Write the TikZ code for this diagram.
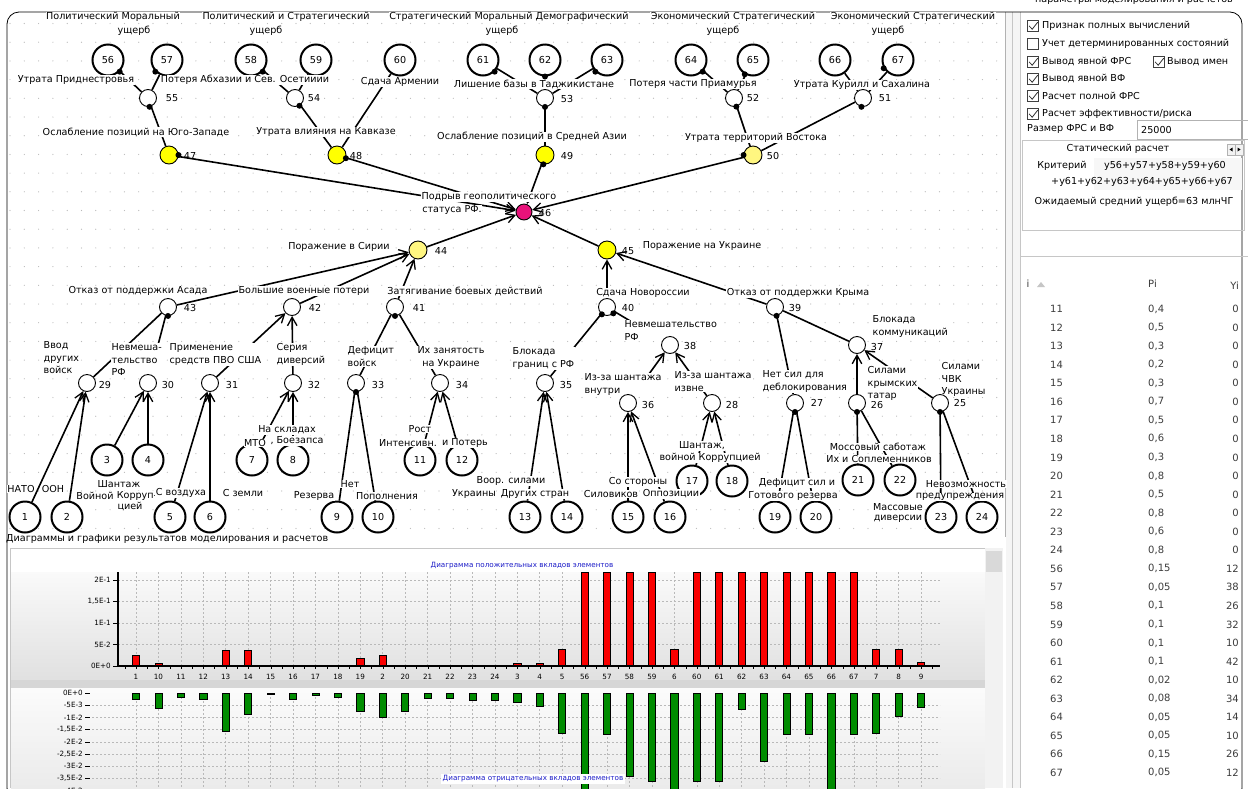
\documentclass[tikz,border=0pt]{standalone}
\usepackage{fontspec}
\setmainfont{DejaVu Sans}
\usetikzlibrary{arrows.meta}
\pgfdeclarelayer{bg}
\pgfdeclarelayer{edges}
\pgfsetlayers{bg,edges,main}
\newcommand\lbf{\fontsize{9.6}{12.3}\selectfont}
\newcommand\smf{\fontsize{7.2}{8.5}\selectfont}
\newcommand\tbf{\fontsize{10}{12}\selectfont}
\definecolor{gmag}{RGB}{232,18,122}
\definecolor{gyel}{RGB}{255,255,0}
\definecolor{gpale}{RGB}{255,246,128}
\definecolor{ttlblue}{RGB}{28,28,200}
\definecolor{barred}{RGB}{250,0,0}
\definecolor{bargreen}{RGB}{0,140,0}
\definecolor{tblgray}{RGB}{60,60,60}
\begin{document}
\begin{tikzpicture}[x=1pt,y=-1pt,
  lbl/.style={font=\lbf, inner sep=0.5pt, fill=white},
  mlbl/.style={lbl, align=left, anchor=north west},
  num/.style={font=\lbf, inner sep=0pt},
  leaf/.style={circle, draw, line width=2pt, minimum size=31pt, inner sep=0pt, font=\lbf, fill=white},
  gate/.style={circle, draw, line width=0.9pt, minimum size=17pt, inner sep=0pt, fill=white},
  edge/.style={line width=1.6pt},
  arr/.style={line width=1.6pt, -{Straight Barb[length=8.5pt,width=9.5pt,line width=1.3pt]}},
  chk/.style={draw=black!75, line width=0.6pt, minimum size=11pt, inner sep=0pt, fill=white},
  ptxt/.style={font=\lbf, inner sep=0pt},
  tick/.style={font=\smf, inner sep=0pt, anchor=east},
  grd/.style={gray!55, dash pattern=on 2pt off 2pt, line width=0.5pt},
]
\useasboundingbox (0,0) rectangle (1248,788);

% ---------------- window background ----------------
\begin{pgfonlayer}{bg}
\fill[white] (0,0) rectangle (1248,788);
% canvas grid dots
\foreach \gx in {0,...,69}
  \foreach \gy in {0,...,27}
    \fill[gray!55] ({10+14.3*\gx},{23.5+18.7*\gy}) circle (0.6);
\draw[gray!60] (1005,12) -- (1005,537);
% splitter between canvas and settings panel
\fill[gray!8] (1006,12) rectangle (1020,788);
\draw[gray!45] (1012,12) -- (1012,788);
\draw[gray!45] (1020,12) -- (1020,788);
% chart panel
\fill[white] (8,541) rectangle (1005,788);
\draw[gray!45] (10,548) -- (985,548);
\draw[gray!45] (10,548) -- (10,788);
\shade[top color=gray!4, bottom color=gray!24] (11,572) rectangle (985,680);
\fill[gray!32] (11,680) rectangle (985,688);
\shade[top color=gray!3, bottom color=gray!16] (11,688) rectangle (985,790);
\fill[gray!10] (985,548) rectangle (1003,788);
\fill[gray!30] (986,551) rectangle (1002,572);
\end{pgfonlayer}

% outer window frame
\draw[line width=0.8pt, rounded corners=12] (7,12) rectangle (1242,800);

% ---------------- leaf events ----------------
\foreach \n/\x/\y in {56/108/60, 57/167/60, 58/251/60, 59/316/60, 60/400/60,
  61/483/60, 62/545/60, 63/607/60, 64/691/60, 65/753/60, 66/835/60, 67/898/60,
  1/25/517, 2/67/517, 3/107/460, 4/148/460, 5/170/517, 6/210/517, 7/252/460,
  8/293/460, 9/337/517, 10/378/517, 11/420/460, 12/462/460, 13/525/517,
  14/567/517, 15/628/517, 16/670/517, 17/692/481, 18/732/481, 19/775/517,
  20/816/517, 21/858/480, 22/900/480, 23/941/517, 24/982/517}
  \node[leaf] (n\n) at (\x,\y) {\n};

% ---------------- labels ----------------
\foreach \n/\x/\y in {55/172/98, 54/314/98, 53/567/99, 52/753/98, 51/885/98,
  47/190/156, 48/356/156, 49/567/156, 50/773/156, 46/545/213, 44/441/251,
  45/628/251, 43/190/308, 42/315/308, 41/419/308, 40/628/308, 39/795/308,
  38/690/346, 37/877/347, 29/105/385, 30/168/385, 31/232/385, 32/314/385,
  33/378/385, 34/462/385, 35/566/385, 36/648/405, 28/732/405, 27/817/403,
  26/877/405, 25/960/403}
  \node[num] (k\n) at (\x,\y) {\n};

\node[lbl] (c1a) at (113,17) {Политический Моральный};
\node[lbl] (c1b) at (134,31) {ущерб};
\node[lbl] (c2a) at (286,17) {Политический и Стратегический};
\node[lbl] (c2b) at (266,31) {ущерб};
\node[lbl] (c3a) at (509,17) {Стратегический Моральный Демографический};
\node[lbl] (c3b) at (502,31) {ущерб};
\node[lbl] (c4a) at (733,17) {Экономический Стратегический};
\node[lbl] (c4b) at (723,31) {ущерб};
\node[lbl] (c5a) at (913,17) {Экономический Стратегический};
\node[lbl] (c5b) at (888,31) {ущерб};

\node[lbl] (t55) at (76,80) {Утрата Приднестровья};
\node[lbl] (t54) at (245,80) {Потеря Абхазии и Сев. Осетииии};
\node[lbl] (t60) at (400,82) {Сдача Армении};
\node[lbl] (t53) at (534,84) {Лишение базы в Таджикистане};
\node[lbl] (t52) at (693,84) {Потеря части Приамурья};
\node[lbl] (t51) at (862,85) {Утрата Курилл и Сахалина};
\node[lbl] (t47) at (136,132) {Ослабление позиций на Юго-Западе};
\node[lbl] (t48) at (326,132) {Утрата влияния на Кавказе};
\node[lbl] (t49) at (532,137) {Ослабление позиций в Средней Азии};
\node[lbl] (t50) at (756,138) {Утрата территорий Востока};
\node[lbl] (t46a) at (489,197) {Подрыв геополитического};
\node[lbl] (t46b) at (452,210) {статуса РФ.};
\node[lbl] (t44) at (339,247) {Поражение в Сирии};
\node[lbl] (t45) at (702,246) {Поражение на Украине};
\node[lbl] (t43) at (138,291) {Отказ от поддержки Асада};
\node[lbl] (t42) at (304,291) {Большие военные потери};
\node[lbl] (t41) at (465,291) {Затягивание боевых действий};
\node[lbl] (t40) at (643,293) {Сдача Новороссии};
\node[lbl] (t39) at (798,293) {Отказ от поддержки Крыма};

\node[mlbl] (t29) at (43,341) {Ввод\\других\\войск};
\node[mlbl] (t30) at (111,343) {Невмеша-\\тельство\\РФ};
\node[mlbl] (t31) at (169,343) {Применение\\средств ПВО США};
\node[mlbl] (t32) at (276,343) {Серия\\диверсий};
\node[mlbl] (t33) at (347,346) {Дефицит\\войск};
\node[lbl, align=center, anchor=north] (t34) at (451,346) {Их занятость\\на Украине};
\node[mlbl] (t35) at (512,347) {Блокада\\границ с РФ};
\node[mlbl] (t38) at (624,320) {Невмешательство\\РФ};
\node[mlbl] (t36) at (584,373) {Из-за шантажа\\внутри};
\node[mlbl] (t28) at (674,371) {Из-за шантажа\\извне};
\node[mlbl] (t37) at (872,315) {Блокада\\коммуникаций};
\node[mlbl] (t27) at (762,370) {Нет сил для\\деблокирования};
\node[mlbl] (t26) at (867,366) {Силами\\крымских\\татар};
\node[mlbl] (t25) at (941,362) {Силами\\ЧВК\\Украины};

\node[lbl] (s1) at (21,489) {НАТО};
\node[lbl] (s2) at (53,489) {ООН};
\node[lbl] (s3a) at (119,484) {Шантаж};
\node[lbl] (s3b) at (95,496) {Войной};
\node[lbl] (s4a) at (137,496) {Корруп-};
\node[lbl] (s4b) at (130,507) {цией};
\node[lbl] (s5) at (181,493) {С воздуха};
\node[lbl] (s6) at (243,493) {С земли};
\node[lbl] (s8a) at (287,430) {На складах};
\node[lbl] (s7) at (255,443) {МТО};
\node[lbl] (s8b) at (297,441) {, Боезапса};
\node[lbl] (s9a) at (350,484) {Нет};
\node[lbl] (s9b) at (314,496) {Резерва};
\node[lbl] (s10) at (387,496) {Пополнения};
\node[lbl] (s11a) at (420,429) {Рост};
\node[lbl] (s11b) at (408,443) {Интенсивн.};
\node[lbl] (s12) at (465,443) {и Потерь};
\node[lbl] (s13a) at (511,481) {Воор. силами};
\node[lbl] (s13b) at (474,494) {Украины};
\node[lbl] (s14) at (535,494) {Других стран};
\node[lbl] (s15a) at (638,482) {Со стороны};
\node[lbl] (s15b) at (611,494) {Силовиков};
\node[lbl] (s16) at (671,494) {Оппозиции};
\node[lbl] (s17a) at (702,446) {Шантаж,};
\node[lbl] (s17b) at (710,458) {войной Коррупцией};
\node[lbl] (s19a) at (797,483) {Дефицит сил и};
\node[lbl] (s19b) at (793,496) {Готового резерва};
\node[lbl] (s21a) at (878,447) {Моссовый саботаж};
\node[lbl] (s21b) at (879,459) {Их и Соплеменников};
\node[lbl] (s24a) at (966,484) {Невозможность};
\node[lbl] (s24b) at (960,497) {предупреждения};
\node[lbl] (s23a) at (898,507) {Массовые};
\node[lbl] (s23b) at (898,519) {диверсии};

% ---------------- gate events (kept above the labels) ----------------
\foreach \n/\x/\y in {55/148/98, 54/295/98, 53/545/98, 52/734/98, 51/863/98,
  43/168/307, 42/292/307, 41/395/307, 40/607/307, 39/775/307,
  38/670/345, 37/857/345, 29/87/383, 30/148/383, 31/210/383, 32/293/383,
  33/356/383, 34/440/383, 35/545/383, 36/628/403, 28/712/403, 27/795/403,
  26/857/403, 25/940/403}
  \node[gate] (n\n) at (\x,\y) {};

\node[gate, fill=gyel, minimum size=18pt] (n47) at (169,155) {};
\node[gate, fill=gyel, minimum size=18pt] (n48) at (337,155) {};
\node[gate, fill=gyel, minimum size=18pt] (n49) at (545,155) {};
\node[gate, fill=gpale, minimum size=18pt] (n50) at (753,155) {};
\node[gate, fill=gmag, minimum size=16pt] (n46) at (524,212) {};
\node[gate, fill=gpale, minimum size=18pt] (n44) at (418,250) {};
\node[gate, fill=gyel, minimum size=18pt] (n45) at (607,250) {};

% black joints where the connectors attach
\foreach \n/\a in {56/-45, 57/-135, 58/-45, 61/-45, 62/-90, 63/-135, 64/-45,
  65/-120, 67/-150, 55/-80, 54/-60, 53/-90, 52/-75, 51/-100, 47/0, 48/-20,
  49/-100, 50/180, 43/-90, 41/-90, 40/-125, 40/-45, 39/-80, 33/-90, 27/-90,
  26/-90, 25/-90}
  \fill (n\n.\a) circle (3);

% ---------------- connectors ----------------
\begin{pgfonlayer}{edges}
\foreach \a/\b in {56/55, 57/55, 58/54, 59/54, 55/47, 54/48, 60/48, 61/53,
  62/53, 63/53, 53/49, 64/52, 65/52, 52/50, 66/51, 67/51, 51/50, 29/43, 30/43,
  33/41, 34/41, 9/33, 10/33, 35/40, 38/40, 27/39, 37/39, 19/27, 20/27, 21/26,
  22/26, 23/25, 24/25}
  \draw[edge] (n\a) -- (n\b);
\foreach \a/\b in {47/46, 48/46, 49/46, 50/46, 44/46, 45/46, 43/44, 42/44,
  41/44, 40/45, 39/45, 1/29, 2/29, 3/30, 4/30, 5/31, 6/31, 31/42, 7/32, 8/32,
  32/42, 11/34, 12/34, 13/35, 14/35, 15/36, 16/36, 36/38, 17/28, 18/28, 28/38,
  26/37, 25/37}
  \draw[arr] (n\a) -- (n\b);
\end{pgfonlayer}

% ---------------- charts ----------------
\node[ptxt, anchor=west] (chhead) at (6,539) {Диаграммы и графики результатов моделирования и расчетов};
\node[font=\smf, text=ttlblue, inner sep=0pt] (ch1t) at (522,566) {Диаграмма положительных вкладов элементов};

% value grid lines
\foreach \yy in {580,601.5,623,644.5}
  \draw[grd] (118,\yy) -- (940,\yy);
\foreach \yy in {705.2,717.4,729.6,741.8,754,766.2,778.4}
  \draw[grd] (92,\yy) -- (940,\yy);

\foreach \c/\p/\q [count=\i from 0] in {1/0.025/0.0025, 10/0.007/0.0062,
  11/0/0.0017, 12/0/0.0025, 13/0.037/0.0155, 14/0.037/0.0087, 15/0/0.0004,
  16/0/0.0025, 17/0/0.001, 18/0/0.0017, 19/0.018/0.0076, 2/0.025/0.01,
  20/0/0.0076, 21/0/0.002, 22/0/0.002, 23/0/0.003, 24/0/0.003, 3/0.006/0.0039,
  4/0.006/0.0055, 5/0.04/0.0166, 56/1/0.06, 57/1/0.017, 58/1/0.034,
  59/1/0.036, 6/0.04/0.06, 60/1/0.036, 61/1/0.036, 62/1/0.0065, 63/1/0.028,
  64/1/0.017, 65/1/0.017, 66/1/0.06, 67/1/0.017, 7/0.04/0.0166,
  8/0.04/0.0094, 9/0.008/0.0058}{
  \pgfmathsetmacro\bx{136+22.43*\i}
  \pgfmathsetmacro\ty{max(666-430*\p,572.5)}
  \pgfmathsetmacro\by{min(693+2440*\q,792)}
  \draw[grd] (\bx,572) -- (\bx,666);
  \draw[grd] (\bx,693) -- (\bx,788);
  \node[font=\smf, inner sep=0pt] (xl\i) at (\bx,677) {\c};
  \draw[fill=barred, line width=0.6pt] (\bx-3.6,666) rectangle (\bx+3.6,\ty);
  \draw[fill=bargreen, line width=0.6pt] (\bx-3.6,693) rectangle (\bx+3.6,\by);
}

% positive chart axes
\draw[line width=1.3pt] (118,572) -- (118,667);
\draw[line width=1.3pt] (117,666) -- (940,666);
\foreach \i in {0,...,72}
  \draw[line width=0.5pt] ({125+11.215*\i},666) -- ({125+11.215*\i},669);
\foreach \yy/\t in {580/2E-1, 601.5/{1,5E-1}, 623/1E-1, 644.5/5E-2, 666/0E+0}{
  \node[tick] (py\yy) at (111,\yy) {\t};
  \draw[line width=0.6pt] (113,\yy) -- (118,\yy);
}
% negative chart axis labels
\foreach \yy/\t in {693/0E+0, 705.2/-5E-3, 717.4/-1E-2, 729.6/{-1,5E-2},
  741.8/-2E-2, 754/{-2,5E-2}, 766.2/-3E-2, 778.4/{-3,5E-2}, 790.6/-4E-2}{
  \node[tick] (ny\yy) at (83,\yy) {\t};
  \draw[line width=0.6pt] (85,\yy) -- (90,\yy);
}
\node[font=\smf, text=ttlblue, fill=white, inner sep=1.5pt] (ch2t) at (533,779) {Диаграмма отрицательных вкладов элементов};

% ---------------- settings panel ----------------
\node[ptxt] (phead) at (1134,1) {параметры моделирования и расчетов};
\foreach \cy/\cx in {26/1033, 44/1033, 62/1033, 62/1159, 79/1033, 96/1033, 114/1033}
  \node[chk] (cb\cx-\cy) at (\cx,\cy) {};
\foreach \cy/\cx in {26/1033, 62/1033, 62/1159, 79/1033, 96/1033, 114/1033}
  \draw[black!80, line width=0.8pt] (cb\cx-\cy.west) ++(2,0) -- ++(3,3.2) -- ++(5.5,-7);
\node[ptxt, anchor=west] (o1) at (1042,26) {Признак полных вычислений};
\node[ptxt, anchor=west] (o2) at (1042,44) {Учет детерминированных состояний};
\node[ptxt, anchor=west] (o3) at (1042,62) {Вывод явной ФРС};
\node[ptxt, anchor=west] (o3b) at (1167,62) {Вывод имен};
\node[ptxt, anchor=west] (o4) at (1042,79) {Вывод явной ВФ};
\node[ptxt, anchor=west] (o5) at (1042,96) {Расчет полной ФРС};
\node[ptxt, anchor=west] (o6) at (1042,114) {Расчет эффективности/риска};
\node[ptxt, anchor=west] (o7) at (1027,129) {Размер ФРС и ВФ};
\draw[gray!60] (1137,120) rectangle (1252,139);
\node[ptxt, anchor=west] (o8) at (1141,130) {25000};
\draw[gray!45] (1022,140) rectangle (1244,230);
\node[ptxt] (o9) at (1118,149) {Статический расчет};
\draw[gray!60, fill=gray!10] (1227,144) rectangle (1235,155);
\draw[gray!60, fill=gray!10] (1235,144) rectangle (1243,155);
\fill (1229.5,149.5) -- (1232.5,147.5) -- (1232.5,151.5) -- cycle;
\fill (1240.5,149.5) -- (1237.5,147.5) -- (1237.5,151.5) -- cycle;
\fill[gray!6] (1094,158) rectangle (1242,190);
\node[ptxt] (o10) at (1062,166) {Критерий};
\node[ptxt] (o11) at (1165,166) {y56+y57+y58+y59+y60};
\node[ptxt] (o12) at (1142,182) {+y61+y62+y63+y64+y65+y66+y67};
\node[ptxt] (o13) at (1134,202) {Ожидаемый средний ущерб=63 млнЧГ};
\draw[gray!45] (1020,256) -- (1248,256);

% result table
\node[font=\tbf, text=tblgray, inner sep=0pt] (th1) at (1028,284) {i};
\fill[gray!45] (1037,287) -- (1041,282) -- (1045,287) -- cycle;
\node[font=\tbf, text=tblgray, inner sep=0pt, anchor=west] (th2) at (1148,284) {Pi};
\node[font=\tbf, text=tblgray, inner sep=0pt, anchor=east] (th3) at (1239,286) {Yi};
\foreach \a/\b/\c [count=\k from 0] in {11/{0,4}/0, 12/{0,5}/0, 13/{0,3}/0,
  14/{0,2}/0, 15/{0,3}/0, 16/{0,7}/0, 17/{0,5}/0, 18/{0,6}/0, 19/{0,3}/0,
  20/{0,8}/0, 21/{0,5}/0, 22/{0,8}/0, 23/{0,6}/0, 24/{0,8}/0, 56/{0,15}/12,
  57/{0,05}/38, 58/{0,1}/26, 59/{0,1}/32, 60/{0,1}/10, 61/{0,1}/42,
  62/{0,02}/10, 63/{0,08}/34, 64/{0,05}/14, 65/{0,05}/10, 66/{0,15}/26,
  67/{0,05}/12}{
  \pgfmathsetmacro\ry{309+18.55*\k}
  \node[font=\tbf, text=tblgray, inner sep=0pt, anchor=west] (ri\k) at (1050,\ry) {\a};
  \node[font=\tbf, text=tblgray, inner sep=0pt, anchor=west] (rp\k) at (1148,\ry) {\b};
  \node[font=\tbf, text=tblgray, inner sep=0pt, anchor=east] (ry\k) at (1239,\ry) {\c};
}
\end{tikzpicture}
\end{document}
